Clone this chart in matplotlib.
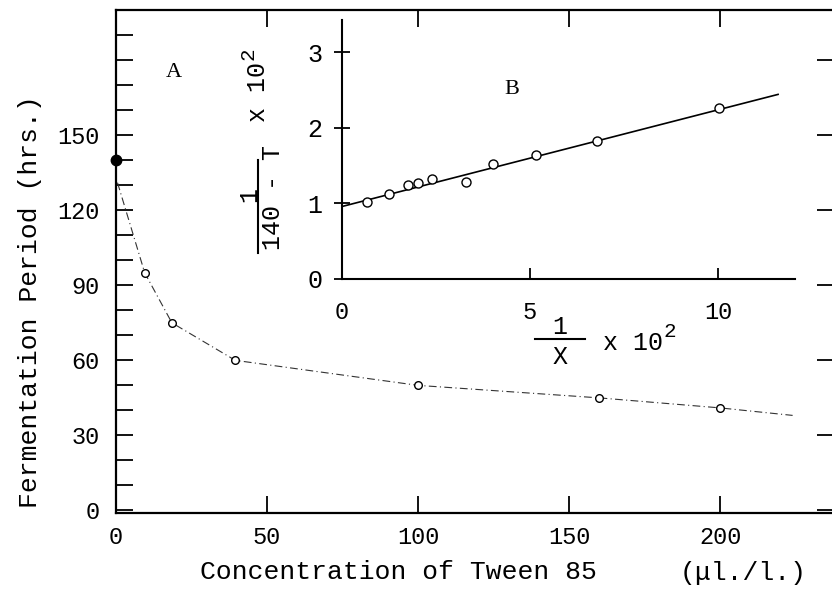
import matplotlib
matplotlib.use('Agg')
import matplotlib.pyplot as plt
from matplotlib.lines import Line2D
from matplotlib.ticker import MultipleLocator, FixedLocator

plt.rcParams['font.family'] = ['Liberation Mono', 'DejaVu Sans']

# curve A: fermentation period vs Tween 85 concentration
control_x = 0
control_t = 140
conc = [0.5, 9.5, 18.5, 39.5, 100, 160, 200]
period = [131, 95, 75, 60, 50, 45, 41]
curve_x = [0.5, 9.5, 18.5, 39.5, 100, 160, 200, 224]
curve_y = [131, 95, 75, 60, 50, 45, 41, 38]

# curve B: 1/(140-T) x 10^2 vs 1/X x 10^2
inv_x = [0.66, 1.26, 1.75, 2.01, 2.40, 3.30, 4.01, 5.16, 6.77, 10.03]
inv_t = [1.02, 1.12, 1.245, 1.275, 1.325, 1.29, 1.52, 1.64, 1.83, 2.26]
fit_intercept = 0.96
fit_slope = 0.128
fit_x = [0, 11.6]

W, H = 832, 593


def px(x, y):
    return x / W, 1 - y / H


def hline(x0, x1, y):
    fig.add_artist(Line2D([x0 / W, x1 / W], [1 - y / H, 1 - y / H],
                          transform=fig.transFigure, color='black', lw=1.5))


def vline(x, y0, y1):
    fig.add_artist(Line2D([x / W, x / W], [1 - y0 / H, 1 - y1 / H],
                          transform=fig.transFigure, color='black', lw=1.5))


fig = plt.figure(figsize=(8.32, 5.93), dpi=100)
fig.patch.set_facecolor('white')

ax = fig.add_axes([116 / W, (H - 513) / H, (834 - 116) / W, (513 - 10) / H])
ax.plot(curve_x, curve_y, color='#333333', lw=0.8, linestyle=(0, (7, 3, 1, 3)))
ax.plot(conc[1:], period[1:], 'o', ms=5.5, mfc='white', mec='black', mew=1.0)
ax.plot([control_x], [control_t], 'o', ms=7.5, color='black', clip_on=False, zorder=5)
ax.set_xlim(0, 237.7)
ax.set_ylim(-1, 200)
for s in ax.spines.values():
    s.set_linewidth(1.6)
ax.xaxis.set_major_locator(FixedLocator([0, 50, 100, 150, 200]))
ax.yaxis.set_major_locator(FixedLocator([0, 30, 60, 90, 120, 150, 180]))
ax.yaxis.set_minor_locator(MultipleLocator(10))
ax.tick_params(which='both', direction='in', length=12, width=1.3,
               top=True, right=True, labelsize=17, pad=12)
ax.tick_params(axis='x', pad=9)
ax.tick_params(which='minor', right=False)
ax.set_yticklabels(['0', '30', '60', '90', '120', '150', ''])
ax.text(0.08, 0.875, 'A', transform=ax.transAxes, fontsize=16,
        family='Liberation Serif', ha='center', va='center')

fig.text(*px(30, 302), 'Fermentation Period (hrs.)', rotation=90,
         fontsize=19, ha='center', va='center')
fig.text(*px(398, 572), 'Concentration of Tween 85', fontsize=19,
         ha='center', va='center')
fig.text(*px(743, 573), '(\u03bcl./l.)', fontsize=19, ha='center', va='center')

# inset B
ins = fig.add_axes([342 / W, (H - 279) / H, (795 - 342) / W, (279 - 20) / H])
ins.set_facecolor('none')
ins.plot(fit_x, [fit_intercept + fit_slope * v for v in fit_x], color='black', lw=1.2)
ins.plot(inv_x, inv_t, 'o', ms=6.5, mfc='white', mec='black', mew=1.0)
ins.set_xlim(0, 12.05)
ins.set_ylim(0, 3.43)
ins.spines['top'].set_visible(False)
ins.spines['right'].set_visible(False)
ins.spines['left'].set_linewidth(1.5)
ins.spines['bottom'].set_linewidth(1.5)
ins.xaxis.set_major_locator(FixedLocator([0, 5, 10]))
ins.yaxis.set_major_locator(FixedLocator([0, 1, 2, 3]))
ins.tick_params(axis='y', direction='inout', length=12, width=1.3, labelsize=18, pad=8)
ins.tick_params(axis='x', direction='in', length=8, width=1.3, labelsize=17, pad=16)
ins.text(0.375, 0.73, 'B', transform=ins.transAxes, fontsize=16,
         family='Liberation Serif', ha='center', va='center')

# inset y label: 1/(140 - T) x 10^2, written upward
fig.text(*px(249, 195), '1', rotation=90, fontsize=18, ha='center', va='center')
vline(258, 160, 253)
fig.text(*px(273, 198), '140 - T', rotation=90, fontsize=18, ha='center', va='center')
fig.text(*px(258, 92), 'x 10', rotation=90, fontsize=18, ha='center', va='center')
fig.text(*px(248, 54), '2', rotation=90, fontsize=15, ha='center', va='center')

# inset x label: 1/X x 10^2
fig.text(*px(560, 327), '1', fontsize=18, ha='center', va='center')
hline(535, 585, 339)
fig.text(*px(560, 357), 'X', fontsize=18, ha='center', va='center')
fig.text(*px(633, 343), 'x 10', fontsize=18, ha='center', va='center')
fig.text(*px(670, 332), '2', fontsize=15, ha='center', va='center')

fig.savefig('out.png', dpi=100)
